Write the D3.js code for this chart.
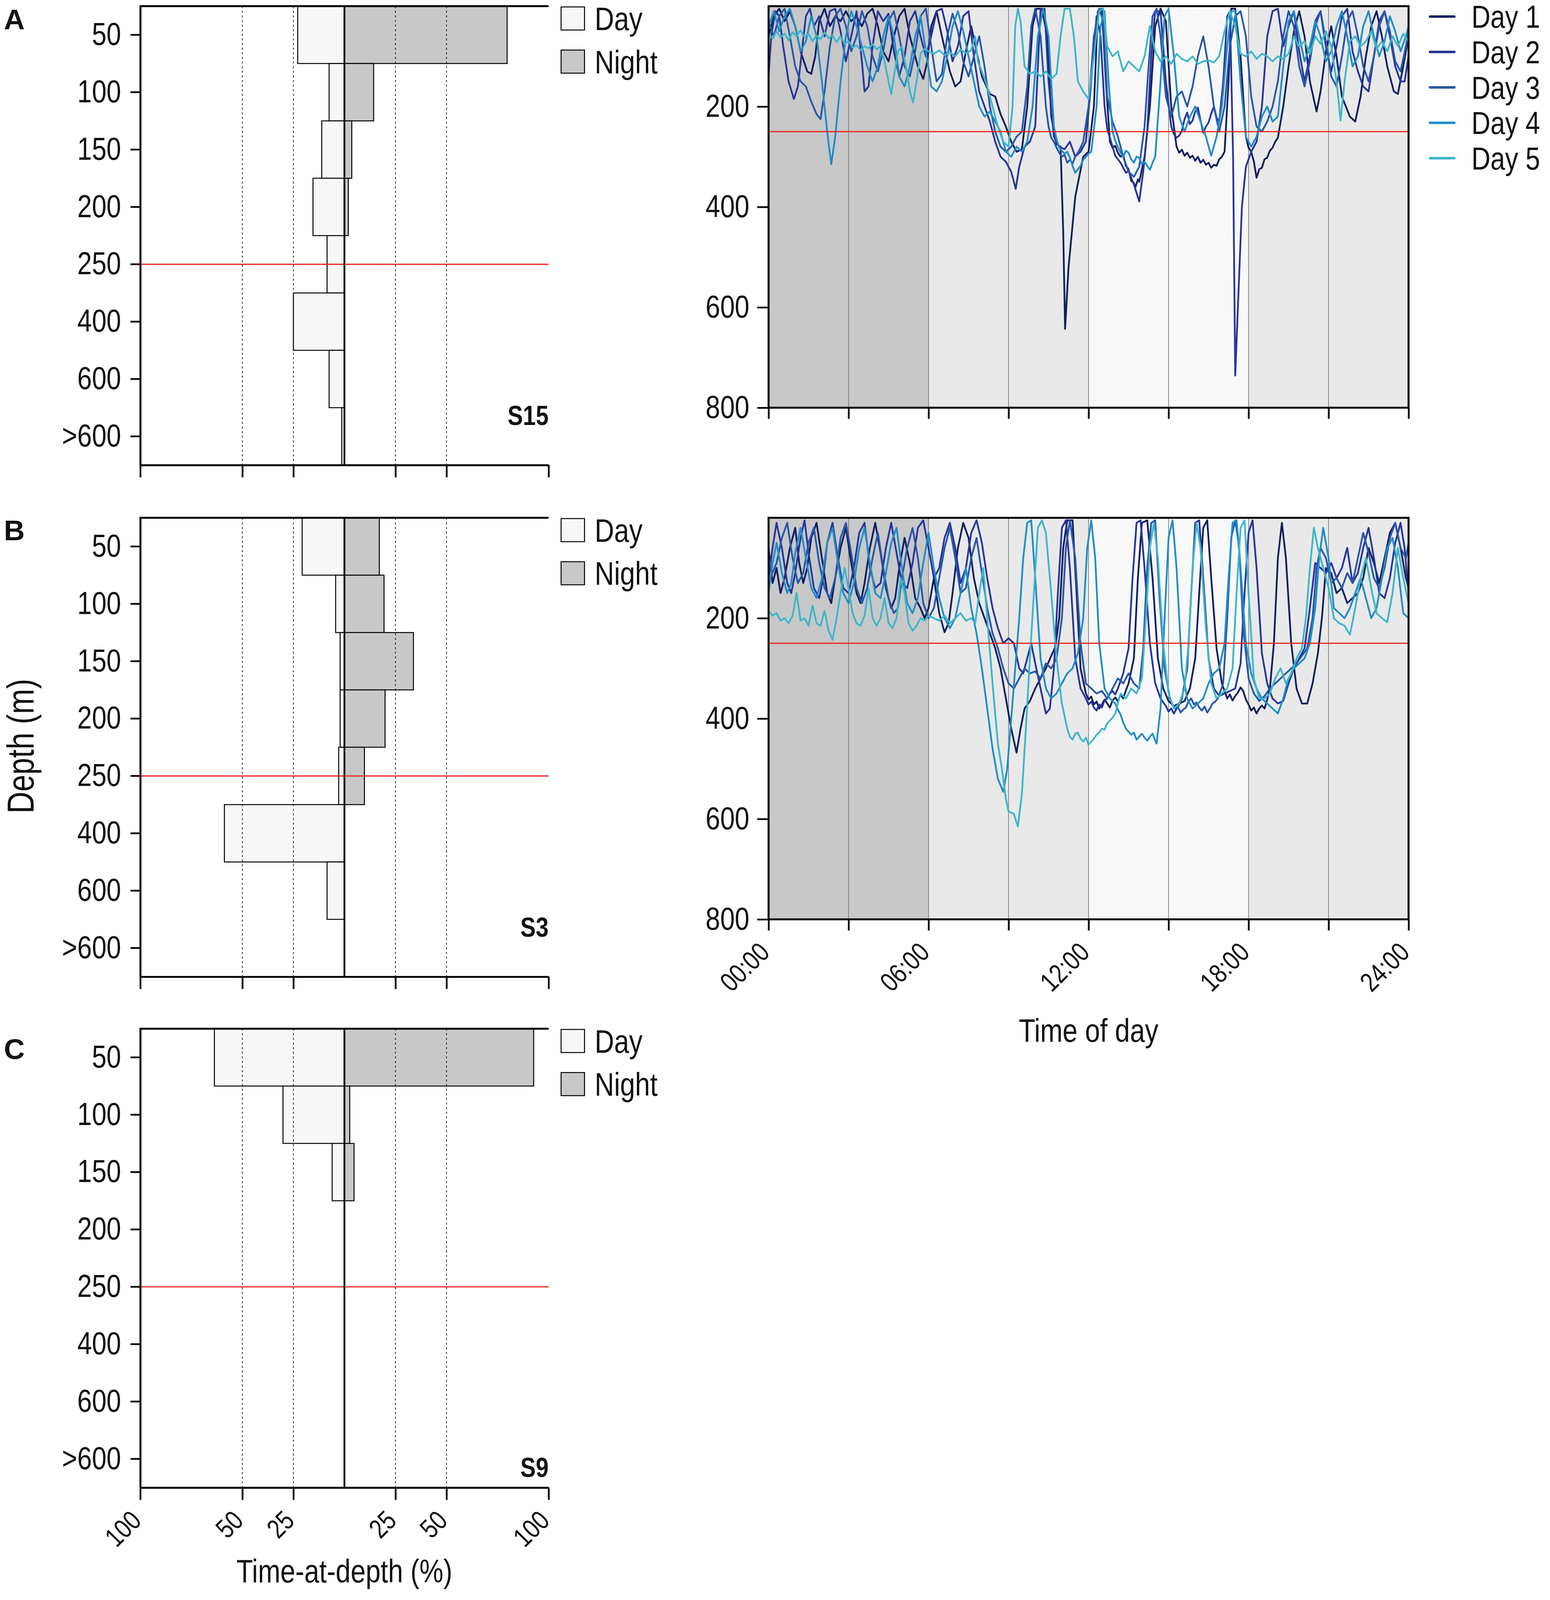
<!DOCTYPE html>
<html>
<head>
<meta charset="utf-8">
<script src="https://cdn.jsdelivr.net/npm/d3@7"></script>
<style>
  html, body { margin: 0; padding: 0; background: #fff; overflow: hidden; }
  svg { display: block; width: 100vw; height: 100vh; }
  svg text { font-family: "Liberation Sans", Arial, sans-serif; fill: #111; }
</style>
</head>
<body>
<svg id="fig" viewBox="0 0 3967 4156" preserveAspectRatio="none"></svg>
<script>
// ---- time-at-depth histograms (% of time) ----
const depthBins = ["50", "100", "150", "200", "250", "400", "600", ">600"];
const pctTicks = [-100, -50, -25, 25, 50, 100];
const pctGrid = [-50, -25, 25, 50];

const dayS15 = [22.9, 7.5, 11.1, 15.4, 8.5, 25.0, 7.5, 1.3];
const nightS15 = [79.7, 14.3, 3.6, 1.9, 0, 0, 0, 0];
const dayS3 = [20.7, 4.3, 2.1, 2.1, 2.8, 58.8, 8.5, 0];
const nightS3 = [17.1, 19.4, 33.8, 19.9, 9.8, 0, 0, 0];
const dayS9 = [63.7, 30.1, 6.0, 0, 0, 0, 0, 0];
const nightS9 = [92.7, 2.6, 4.7, 0, 0, 0, 0, 0];

// ---- dive profiles [hour, depth m] ----
const dayNames = ["Day 1", "Day 2", "Day 3", "Day 4", "Day 5"];
const dayColors = ["#101f5e", "#27349a", "#2656a9", "#1f8dc6", "#3cb6c9"];
const depthTicks = [200, 400, 600, 800];
const hourTicks = [0, 3, 6, 9, 12, 15, 18, 21, 24];
const hourLabels = { 0: "00:00", 6: "06:00", 12: "12:00", 18: "18:00", 24: "24:00" };
const lightPeriods = [[0, 6, "#c8c8c8"], [6, 12, "#e9e9e9"], [12, 18, "#f8f8f8"], [18, 24, "#e9e9e9"]];

const diveA1 = [[0,60],[0.2,20],[0.4,5],[0.6,30],[0.8,10],[1.0,40],[1.2,90],[1.45,130],[1.6,135],[1.75,100],[1.9,30],[2.1,5],[2.3,40],[2.5,20],[2.7,30],[2.9,10],[3.1,30],[3.3,20],[3.5,40],[3.7,15],[3.9,5],[4.1,40],[4.3,90],[4.5,110],[4.7,60],[4.9,20],[5.1,5],[5.3,60],[5.6,120],[5.8,145],[5.95,110],[6.1,40],[6.3,10],[6.5,60],[6.8,130],[7.0,160],[7.2,150],[7.4,90],[7.6,40],[7.8,90],[8.0,140],[8.3,175],[8.5,180],[8.7,215],[8.9,240],[9.1,270],[9.3,290],[9.5,285],[9.7,200],[9.9,40],[10.05,5],[10.25,5],[10.45,60],[10.6,220],[10.8,275],[10.95,280],[11.05,450],[11.12,643],[11.25,520],[11.5,380],[11.8,300],[12.0,290],[12.2,200],[12.35,10],[12.5,5],[12.65,150],[12.8,270],[12.9,282],[13.0,278],[13.1,292],[13.2,300],[13.3,296],[13.4,318],[13.5,325],[13.6,348],[13.7,352],[13.75,362],[13.85,345],[13.9,350],[14.0,325],[14.1,300],[14.3,200],[14.5,40],[14.7,5],[14.9,30],[15.1,200],[15.3,280],[15.4,292],[15.5,286],[15.6,298],[15.7,292],[15.8,302],[15.9,298],[16.0,308],[16.1,300],[16.2,312],[16.3,306],[16.4,316],[16.5,312],[16.6,322],[16.7,316],[16.8,318],[16.9,305],[17.0,300],[17.1,290],[17.25,150],[17.35,5],[17.5,5],[17.7,100],[17.9,260],[18.0,282],[18.1,290],[18.2,310],[18.3,342],[18.4,325],[18.5,322],[18.6,305],[18.7,302],[18.8,288],[18.9,282],[19.0,270],[19.1,262],[19.3,200],[19.5,120],[19.7,50],[19.9,10],[20.1,60],[20.3,150],[20.55,210],[20.7,170],[20.9,90],[21.1,40],[21.3,100],[21.5,180],[21.8,220],[22.0,230],[22.2,180],[22.4,100],[22.6,40],[22.8,10],[23.0,60],[23.2,120],[23.45,170],[23.6,175],[23.8,120],[24,60]];
const diveA2 = [[0,140],[0.1,60],[0.25,10],[0.4,20],[0.55,80],[0.75,150],[0.95,185],[1.1,160],[1.25,90],[1.4,20],[1.55,5],[1.7,40],[1.9,20],[2.1,60],[2.3,10],[2.5,5],[2.7,50],[2.9,110],[3.1,60],[3.3,10],[3.5,110],[3.6,170],[3.75,160],[3.9,80],[4.1,10],[4.3,30],[4.5,15],[4.7,90],[4.9,140],[5.1,100],[5.3,30],[5.5,10],[5.7,60],[5.9,100],[6.1,60],[6.3,10],[6.5,5],[6.7,50],[6.9,110],[7.1,80],[7.3,20],[7.5,10],[7.7,100],[7.9,170],[8.1,200],[8.3,230],[8.5,270],[8.7,300],[8.9,310],[9.1,330],[9.27,364],[9.4,320],[9.6,280],[9.8,270],[10.0,240],[10.1,120],[10.2,5],[10.35,5],[10.5,150],[10.7,260],[10.9,280],[11.1,285],[11.3,270],[11.5,300],[11.7,290],[11.9,270],[12.1,150],[12.3,20],[12.45,60],[12.6,200],[12.7,245],[12.8,262],[12.9,280],[13.0,298],[13.1,305],[13.2,312],[13.3,322],[13.4,332],[13.5,328],[13.6,342],[13.7,355],[13.8,372],[13.9,389],[14.05,330],[14.2,250],[14.35,100],[14.5,10],[14.7,10],[14.9,150],[15.1,240],[15.2,255],[15.3,262],[15.4,258],[15.5,248],[15.6,225],[15.7,212],[15.8,235],[15.9,228],[16.0,210],[16.1,202],[16.2,228],[16.3,252],[16.4,240],[16.5,232],[16.6,214],[16.7,200],[16.8,222],[16.9,230],[17.05,150],[17.2,20],[17.3,10],[17.42,300],[17.5,736],[17.6,600],[17.75,400],[17.9,320],[18.1,290],[18.3,270],[18.5,200],[18.7,60],[18.9,10],[19.1,5],[19.3,80],[19.5,40],[19.7,10],[19.9,90],[20.1,150],[20.3,100],[20.5,30],[20.7,10],[20.9,80],[21.1,130],[21.3,80],[21.5,20],[21.7,5],[21.9,90],[22.1,130],[22.3,160],[22.5,170],[22.7,100],[22.9,30],[23.1,10],[23.3,60],[23.5,120],[23.7,150],[23.85,150],[24,100]];
const diveA3 = [[0,30],[0.2,60],[0.4,20],[0.6,5],[0.8,60],[1.0,120],[1.2,150],[1.4,160],[1.6,190],[1.8,215],[1.95,225],[2.1,170],[2.3,80],[2.5,20],[2.7,5],[2.9,40],[3.1,90],[3.3,60],[3.5,10],[3.7,40],[3.9,100],[4.1,130],[4.3,90],[4.5,30],[4.7,10],[4.9,60],[5.1,120],[5.3,140],[5.5,90],[5.7,20],[5.9,5],[6.1,80],[6.3,150],[6.5,135],[6.7,60],[6.9,15],[7.1,50],[7.3,110],[7.5,140],[7.7,100],[7.9,60],[8.1,120],[8.3,200],[8.5,250],[8.7,280],[8.9,290],[9.1,280],[9.3,260],[9.5,250],[9.7,160],[9.85,40],[10.0,5],[10.2,60],[10.4,200],[10.5,240],[10.6,262],[10.7,270],[10.8,282],[10.9,292],[11.0,300],[11.1,296],[11.2,312],[11.3,306],[11.4,314],[11.5,300],[11.6,292],[11.7,282],[11.8,270],[12.0,200],[12.2,60],[12.4,5],[12.55,30],[12.7,180],[12.9,230],[13.1,260],[13.3,300],[13.5,330],[13.7,340],[13.9,320],[14.1,240],[14.25,120],[14.4,20],[14.55,5],[14.7,60],[14.9,180],[15.1,220],[15.3,180],[15.5,170],[15.7,200],[15.9,160],[16.1,100],[16.3,60],[16.5,120],[16.7,200],[16.9,250],[17.1,200],[17.3,80],[17.5,20],[17.7,10],[17.9,60],[18.1,180],[18.3,240],[18.5,250],[18.7,230],[18.9,200],[19.1,150],[19.3,60],[19.5,10],[19.7,40],[19.9,120],[20.1,160],[20.3,110],[20.5,40],[20.7,10],[20.9,70],[21.1,140],[21.3,160],[21.5,100],[21.7,30],[21.9,10],[22.1,60],[22.3,120],[22.5,150],[22.7,100],[22.9,40],[23.1,10],[23.3,50],[23.5,110],[23.7,130],[23.9,80],[24,50]];
const diveA4 = [[0,40],[0.2,10],[0.4,50],[0.6,20],[0.8,5],[1.0,40],[1.2,90],[1.4,70],[1.6,20],[1.8,60],[2.0,150],[2.2,250],[2.35,315],[2.5,260],[2.7,150],[2.9,60],[3.1,10],[3.3,40],[3.5,80],[3.7,120],[3.9,150],[4.1,120],[4.3,60],[4.5,20],[4.7,60],[4.9,140],[5.1,160],[5.3,120],[5.5,60],[5.7,20],[5.9,90],[6.1,160],[6.3,170],[6.5,150],[6.7,100],[6.9,40],[7.1,10],[7.3,50],[7.5,100],[7.7,150],[7.9,200],[8.1,220],[8.3,210],[8.5,230],[8.7,250],[8.9,290],[9.1,300],[9.3,280],[9.5,290],[9.7,270],[9.9,200],[10.1,60],[10.3,5],[10.5,60],[10.7,240],[10.8,265],[10.9,282],[11.0,288],[11.1,294],[11.2,290],[11.3,302],[11.4,318],[11.5,332],[11.6,325],[11.7,318],[11.8,306],[11.9,300],[12.0,294],[12.1,290],[12.3,200],[12.45,40],[12.6,10],[12.75,150],[12.9,250],[13.0,268],[13.1,280],[13.2,292],[13.3,300],[13.4,288],[13.5,292],[13.6,305],[13.7,312],[13.8,300],[13.9,302],[14.0,315],[14.1,310],[14.2,318],[14.3,326],[14.4,312],[14.5,300],[14.7,150],[14.85,20],[15.0,5],[15.2,100],[15.4,220],[15.6,250],[15.8,220],[16.0,200],[16.2,230],[16.4,260],[16.6,298],[16.8,260],[17.0,200],[17.2,80],[17.35,10],[17.5,10],[17.7,150],[17.9,260],[18.1,280],[18.3,260],[18.5,220],[18.7,200],[18.9,230],[19.1,220],[19.3,120],[19.5,30],[19.7,10],[19.9,60],[20.1,110],[20.3,80],[20.5,30],[20.7,60],[20.9,110],[21.1,90],[21.3,40],[21.5,10],[21.7,60],[21.9,120],[22.1,100],[22.3,40],[22.5,10],[22.7,60],[22.9,100],[23.1,70],[23.3,20],[23.5,50],[23.7,90],[23.9,60],[24,40]];
const diveA5 = [[0,55],[0.15,65],[0.3,50],[0.45,62],[0.6,55],[0.75,68],[0.9,52],[1.05,60],[1.2,48],[1.35,62],[1.5,55],[1.65,70],[1.8,58],[1.95,66],[2.1,52],[2.25,64],[2.4,58],[2.55,72],[2.7,60],[2.85,75],[3.0,70],[3.15,82],[3.3,78],[3.45,88],[3.6,80],[3.75,84],[3.9,76],[4.05,86],[4.2,80],[4.35,110],[4.5,150],[4.6,175],[4.7,140],[4.85,90],[5.0,80],[5.15,120],[5.3,170],[5.42,192],[5.55,150],[5.7,95],[5.85,85],[6.0,90],[6.2,95],[6.4,88],[6.6,98],[6.8,92],[7.0,100],[7.2,86],[7.4,94],[7.6,88],[7.75,60],[7.85,110],[8.0,130],[8.2,160],[8.4,200],[8.6,240],[8.8,270],[9.0,280],[9.15,200],[9.25,40],[9.35,5],[9.45,30],[9.6,120],[9.8,135],[10.0,130],[10.2,140],[10.4,130],[10.6,145],[10.8,135],[10.95,60],[11.1,5],[11.3,5],[11.45,60],[11.6,150],[11.8,170],[12.0,185],[12.2,100],[12.4,10],[12.55,5],[12.7,80],[12.9,100],[13.1,90],[13.3,130],[13.5,110],[13.7,120],[13.9,130],[14.1,100],[14.3,40],[14.5,90],[14.7,110],[14.9,100],[15.1,115],[15.3,95],[15.5,105],[15.7,110],[15.9,100],[16.1,115],[16.3,110],[16.5,108],[16.7,112],[16.9,100],[17.1,50],[17.3,10],[17.5,40],[17.7,95],[17.9,100],[18.1,90],[18.3,105],[18.5,95],[18.7,100],[18.9,110],[19.1,100],[19.3,105],[19.5,95],[19.7,60],[19.9,80],[20.1,70],[20.3,95],[20.5,60],[20.7,75],[20.9,50],[21.1,80],[21.3,150],[21.45,228],[21.6,150],[21.8,70],[22.0,60],[22.2,80],[22.4,70],[22.6,50],[22.8,85],[23.0,70],[23.2,90],[23.4,60],[23.6,80],[23.8,55],[24,70]];

const diveB1 = [[0,60],[0.15,130],[0.3,100],[0.45,150],[0.6,120],[0.8,60],[1.0,20],[1.15,90],[1.3,130],[1.45,100],[1.6,40],[1.8,10],[2.0,80],[2.2,150],[2.35,170],[2.5,120],[2.7,60],[2.9,20],[3.1,90],[3.3,150],[3.45,170],[3.6,130],[3.8,60],[4.0,10],[4.2,70],[4.4,140],[4.6,180],[4.75,160],[4.9,100],[5.1,40],[5.3,90],[5.5,160],[5.7,180],[5.85,200],[6.0,180],[6.2,120],[6.4,190],[6.6,228],[6.75,210],[6.9,150],[7.1,60],[7.3,10],[7.5,40],[7.7,120],[7.9,170],[8.1,200],[8.3,230],[8.5,260],[8.7,300],[8.9,360],[9.1,420],[9.3,468],[9.45,420],[9.6,380],[9.8,365],[10.0,340],[10.2,320],[10.4,300],[10.6,275],[10.75,258],[10.9,200],[11.05,60],[11.2,5],[11.4,5],[11.55,150],[11.7,300],[11.9,350],[12.0,362],[12.1,356],[12.2,372],[12.3,366],[12.4,380],[12.5,372],[12.6,362],[12.7,370],[12.8,378],[12.9,364],[13.0,358],[13.1,366],[13.2,352],[13.3,360],[13.4,344],[13.5,330],[13.7,280],[13.85,120],[14.0,10],[14.2,5],[14.4,120],[14.6,280],[14.8,340],[15.0,365],[15.2,375],[15.4,370],[15.6,365],[15.8,340],[16.0,280],[16.15,150],[16.3,20],[16.45,5],[16.6,120],[16.8,260],[17.0,330],[17.2,360],[17.3,352],[17.4,364],[17.5,355],[17.6,348],[17.7,338],[17.8,345],[17.9,362],[18.0,372],[18.1,384],[18.2,378],[18.3,390],[18.4,380],[18.5,374],[18.6,380],[18.7,362],[18.8,340],[18.95,250],[19.1,80],[19.25,10],[19.4,80],[19.6,250],[19.8,340],[20.0,370],[20.2,370],[20.4,330],[20.6,270],[20.75,200],[20.9,100],[21.1,110],[21.3,150],[21.5,140],[21.7,170],[21.9,160],[22.1,150],[22.3,120],[22.5,60],[22.7,90],[22.9,130],[23.1,80],[23.3,30],[23.5,10],[23.7,60],[23.9,120],[24,140]];
const diveB2 = [[0,120],[0.15,60],[0.3,10],[0.5,60],[0.7,130],[0.85,150],[1.0,110],[1.2,40],[1.35,5],[1.5,70],[1.7,140],[1.9,160],[2.05,120],[2.2,50],[2.4,10],[2.6,80],[2.8,140],[3.0,150],[3.2,100],[3.4,30],[3.6,10],[3.8,100],[4.0,140],[4.2,130],[4.4,60],[4.6,10],[4.8,70],[5.0,130],[5.2,140],[5.4,90],[5.6,20],[5.8,5],[6.0,60],[6.2,120],[6.4,100],[6.6,40],[6.8,10],[7.0,60],[7.2,130],[7.4,100],[7.6,30],[7.8,5],[8.0,50],[8.2,120],[8.4,180],[8.6,220],[8.8,250],[9.0,240],[9.2,250],[9.4,300],[9.55,310],[9.7,280],[9.85,250],[10.0,290],[10.2,340],[10.4,390],[10.55,380],[10.7,300],[10.85,150],[11.0,20],[11.15,5],[11.3,100],[11.5,280],[11.7,340],[11.9,360],[12.0,372],[12.1,366],[12.2,378],[12.3,384],[12.4,372],[12.5,378],[12.6,364],[12.7,360],[12.8,350],[12.9,345],[13.0,352],[13.1,340],[13.3,310],[13.5,260],[13.65,120],[13.8,10],[13.95,5],[14.1,100],[14.3,250],[14.5,330],[14.7,360],[14.9,375],[15.0,386],[15.1,380],[15.2,390],[15.3,380],[15.4,372],[15.5,360],[15.7,300],[15.85,150],[16.0,10],[16.15,5],[16.3,120],[16.5,280],[16.7,340],[16.9,355],[17.1,350],[17.3,345],[17.5,340],[17.7,290],[17.85,150],[18.0,30],[18.15,5],[18.3,100],[18.5,270],[18.7,330],[18.9,360],[19.1,370],[19.3,365],[19.5,330],[19.7,300],[19.9,280],[20.1,260],[20.3,180],[20.5,90],[20.7,100],[20.9,110],[21.1,90],[21.3,120],[21.5,100],[21.7,60],[21.9,130],[22.1,110],[22.3,60],[22.5,20],[22.7,80],[22.9,150],[23.1,160],[23.3,120],[23.5,50],[23.7,10],[23.85,60],[24,150]];
const diveB3 = [[0,80],[0.15,110],[0.3,90],[0.5,40],[0.7,10],[0.9,80],[1.1,130],[1.3,110],[1.5,50],[1.7,20],[1.9,90],[2.1,140],[2.3,160],[2.5,120],[2.7,40],[2.9,10],[3.1,70],[3.3,140],[3.5,170],[3.7,140],[3.9,80],[4.1,30],[4.3,100],[4.5,160],[4.7,190],[4.85,180],[5.0,120],[5.2,60],[5.4,20],[5.6,80],[5.8,170],[6.0,200],[6.2,180],[6.4,120],[6.6,60],[6.8,20],[7.0,80],[7.2,150],[7.4,140],[7.6,80],[7.8,40],[8.0,110],[8.2,180],[8.4,230],[8.6,260],[8.8,300],[9.0,330],[9.2,340],[9.4,320],[9.6,300],[9.8,310],[10.0,306],[10.2,320],[10.4,290],[10.6,300],[10.8,280],[11.0,200],[11.15,60],[11.3,5],[11.5,80],[11.7,250],[11.9,330],[12.1,340],[12.3,350],[12.5,345],[12.7,360],[12.9,340],[13.1,320],[13.3,330],[13.5,310],[13.7,330],[13.9,340],[14.05,260],[14.2,100],[14.35,10],[14.5,5],[14.65,150],[14.85,300],[15.05,360],[15.15,372],[15.25,380],[15.35,376],[15.45,388],[15.55,382],[15.65,378],[15.75,366],[15.85,360],[15.95,372],[16.05,368],[16.15,378],[16.25,384],[16.35,376],[16.45,388],[16.55,380],[16.65,370],[16.75,366],[16.85,360],[17.05,330],[17.2,200],[17.35,40],[17.5,5],[17.65,60],[17.8,220],[18.0,320],[18.2,350],[18.4,365],[18.6,355],[18.8,340],[19.0,330],[19.2,320],[19.4,310],[19.6,300],[19.8,290],[20.0,275],[20.2,260],[20.4,200],[20.55,100],[20.7,60],[20.9,80],[21.1,130],[21.3,120],[21.5,140],[21.7,110],[21.9,130],[22.1,80],[22.3,30],[22.5,70],[22.7,120],[22.9,140],[23.1,100],[23.3,40],[23.5,10],[23.7,60],[23.9,80],[24,50]];
const diveB4 = [[0,150],[0.15,90],[0.3,50],[0.5,110],[0.7,150],[0.85,130],[1.0,70],[1.2,20],[1.4,80],[1.6,140],[1.8,160],[2.0,120],[2.2,50],[2.4,20],[2.6,90],[2.8,150],[3.0,170],[3.2,130],[3.4,60],[3.6,20],[3.8,90],[4.0,150],[4.2,160],[4.4,110],[4.6,50],[4.8,20],[5.0,100],[5.2,170],[5.4,190],[5.6,160],[5.8,90],[6.0,30],[6.2,100],[6.4,160],[6.6,200],[6.8,220],[7.0,200],[7.2,150],[7.4,100],[7.6,180],[7.8,230],[8.0,300],[8.2,380],[8.4,460],[8.6,520],[8.8,546],[8.95,500],[9.1,400],[9.25,300],[9.4,200],[9.55,80],[9.7,10],[9.85,5],[10.0,120],[10.2,280],[10.4,340],[10.6,360],[10.8,350],[11.0,330],[11.2,310],[11.4,300],[11.6,270],[11.8,200],[11.95,60],[12.1,5],[12.25,80],[12.4,250],[12.6,340],[12.8,360],[13.0,370],[13.1,382],[13.2,392],[13.3,408],[13.4,420],[13.5,426],[13.6,432],[13.7,428],[13.8,442],[13.9,436],[14.0,430],[14.1,438],[14.2,444],[14.3,436],[14.4,430],[14.5,444],[14.55,450],[14.7,380],[14.85,200],[15.0,40],[15.15,5],[15.3,100],[15.5,300],[15.7,360],[15.9,380],[16.1,370],[16.3,360],[16.5,330],[16.7,310],[16.9,300],[17.1,250],[17.25,120],[17.4,10],[17.55,5],[17.7,100],[17.9,250],[18.1,310],[18.3,340],[18.5,360],[18.7,370],[18.9,380],[19.1,390],[19.3,360],[19.5,320],[19.7,300],[19.9,290],[20.1,280],[20.3,250],[20.5,180],[20.65,80],[20.8,20],[21.0,80],[21.2,180],[21.4,190],[21.6,200],[21.8,180],[22.0,150],[22.2,120],[22.4,160],[22.6,200],[22.8,180],[23.0,120],[23.2,60],[23.4,40],[23.6,100],[23.8,190],[24,200]];
const diveB5 = [[0,185],[0.15,195],[0.3,190],[0.45,205],[0.6,200],[0.75,210],[0.9,195],[1.05,150],[1.2,205],[1.35,200],[1.5,215],[1.65,175],[1.8,210],[1.95,215],[2.1,185],[2.25,225],[2.4,243],[2.55,200],[2.7,150],[2.85,100],[3.0,140],[3.15,190],[3.3,210],[3.45,215],[3.6,195],[3.75,140],[3.9,200],[4.05,215],[4.2,200],[4.35,160],[4.5,210],[4.65,220],[4.8,200],[4.95,120],[5.1,150],[5.25,210],[5.4,225],[5.55,215],[5.7,200],[5.85,205],[6.0,195],[6.2,200],[6.4,205],[6.6,195],[6.8,210],[7.0,200],[7.2,190],[7.4,205],[7.6,200],[7.75,210],[7.9,150],[8.05,100],[8.2,200],[8.4,330],[8.6,450],[8.75,500],[8.9,560],[9.0,585],[9.2,590],[9.35,615],[9.5,550],[9.65,420],[9.8,280],[9.95,150],[10.1,20],[10.25,5],[10.4,30],[10.6,150],[10.8,280],[11.0,370],[11.2,420],[11.3,436],[11.4,442],[11.5,430],[11.6,428],[11.7,440],[11.8,446],[11.9,438],[12.0,452],[12.1,446],[12.2,440],[12.3,432],[12.4,428],[12.5,420],[12.6,422],[12.7,410],[12.8,404],[12.9,398],[13.0,390],[13.2,350],[13.4,360],[13.6,340],[13.8,350],[14.0,320],[14.15,200],[14.3,60],[14.45,10],[14.6,80],[14.8,250],[15.0,350],[15.2,380],[15.4,370],[15.6,340],[15.75,250],[15.9,100],[16.05,10],[16.2,60],[16.4,220],[16.6,330],[16.8,360],[17.0,350],[17.2,340],[17.4,300],[17.55,150],[17.7,20],[17.85,5],[18.0,150],[18.2,320],[18.4,360],[18.6,360],[18.8,350],[19.0,320],[19.2,300],[19.4,330],[19.6,310],[19.8,280],[20.0,260],[20.15,200],[20.3,100],[20.45,20],[20.6,60],[20.8,100],[21.0,140],[21.2,200],[21.4,210],[21.6,215],[21.8,233],[22.0,180],[22.2,120],[22.4,80],[22.6,140],[22.8,190],[23.0,200],[23.2,208],[23.4,150],[23.6,60],[23.8,120],[24,170]];

const svg = d3.select("#fig");

// the figure uses a condensed sans; squeeze Liberation Sans horizontally
function squeeze(sel, k = 0.82) {
  sel.each(function () {
    const t = d3.select(this);
    const x = +t.attr("x") || 0, y = +t.attr("y") || 0;
    const tr = t.attr("transform") || "";
    t.attr("x", 0).attr("y", 0).attr("transform", `${tr} translate(${x},${y}) scale(${k},1)`);
  });
  return sel;
}

// ---------- histograms ----------
const HIST_H = 1192;
const xPct = d3.scaleLinear().domain([-100, 100]).range([359, 1404]);

const histPanels = [
  { letter: "A", top: 16, day: dayS15, night: nightS15, station: "S15", stationY: 1104, letterY: 76, labels: false },
  { letter: "B", top: 1345, day: dayS3, night: nightS3, station: "S3", stationY: 2433, letterY: 1403, labels: false },
  { letter: "C", top: 2672, day: dayS9, night: nightS9, station: "S9", stationY: 3836, letterY: 2751, labels: true }
];

histPanels.forEach(drawHist);

function drawHist(p) {
  const g = svg.append("g");
  const y = d3.scaleBand().domain(depthBins).range([p.top, p.top + HIST_H]);
  const bottom = p.top + HIST_H;
  const rows = depthBins.map((b, i) => ({ bin: b, day: p.day[i], night: p.night[i] }));

  // day bars to the left, night bars to the right
  g.selectAll(".dayBar").data(rows.filter(d => d.day > 0)).join("rect")
    .attr("x", d => xPct(-d.day))
    .attr("width", d => xPct(0) - xPct(-d.day))
    .attr("y", d => y(d.bin))
    .attr("height", y.bandwidth())
    .attr("fill", "#f7f7f7").attr("stroke", "#000").attr("stroke-width", 2.5);

  g.selectAll(".nightBar").data(rows.filter(d => d.night > 0)).join("rect")
    .attr("x", xPct(0))
    .attr("width", d => xPct(d.night) - xPct(0))
    .attr("y", d => y(d.bin))
    .attr("height", y.bandwidth())
    .attr("fill", "#c8c8c8").attr("stroke", "#000").attr("stroke-width", 2.5);

  // dotted guides
  g.selectAll(".guide").data(pctGrid).join("line")
    .attr("x1", d => xPct(d)).attr("x2", d => xPct(d))
    .attr("y1", p.top).attr("y2", bottom)
    .attr("stroke", "#000").attr("stroke-width", 1.8).attr("stroke-dasharray", "5,7");

  // 250 m reference
  g.append("line")
    .attr("x1", xPct(-100)).attr("x2", xPct(100))
    .attr("y1", y("250") + y.bandwidth() / 2).attr("y2", y("250") + y.bandwidth() / 2)
    .attr("stroke", "#e8231f").attr("stroke-width", 3);

  // centre line + top line
  g.append("line").attr("x1", xPct(0)).attr("x2", xPct(0)).attr("y1", p.top).attr("y2", bottom)
    .attr("stroke", "#000").attr("stroke-width", 4.5);
  g.append("line").attr("x1", xPct(-100) - 2).attr("x2", xPct(100)).attr("y1", p.top).attr("y2", p.top)
    .attr("stroke", "#000").attr("stroke-width", 5);

  // axes
  const yAxis = g.append("g").attr("transform", `translate(${xPct(-100)},0)`)
    .call(d3.axisLeft(y).tickSize(25).tickPadding(24).tickSizeOuter(0));
  yAxis.select(".domain").attr("stroke-width", 5);
  yAxis.selectAll(".tick line").attr("stroke-width", 4.5);
  squeeze(yAxis.selectAll("text").attr("font-size", 82).attr("fill", "#111"));

  const xAxis = g.append("g").attr("transform", `translate(0,${bottom})`)
    .call(d3.axisBottom(xPct).tickValues(pctTicks).tickSize(32).tickSizeOuter(0)
      .tickFormat(d => p.labels ? Math.abs(d) : ""));
  xAxis.select(".domain").attr("stroke-width", 5);
  xAxis.selectAll(".tick line").attr("stroke-width", 4.5);
  squeeze(xAxis.selectAll("text")
    .attr("font-size", 70).attr("fill", "#111")
    .attr("x", 0).attr("y", 0).attr("dy", 0)
    .attr("text-anchor", "end")
    .attr("transform", "translate(6,90) rotate(-45)"));

  // legend
  const leg = g.append("g");
  [["Day", "#f7f7f7"], ["Night", "#c8c8c8"]].forEach((it, i) => {
    const ly = p.top + 2 + i * 112;
    leg.append("rect").attr("x", 1436).attr("y", ly).attr("width", 60).attr("height", 60)
      .attr("fill", it[1]).attr("stroke", "#000").attr("stroke-width", 2.5);
    squeeze(leg.append("text").attr("x", 1522).attr("y", ly + 30).attr("dy", "0.36em")
      .attr("font-size", 84).text(it[0]));
  });

  // station tag and panel letter
  squeeze(g.append("text").attr("x", xPct(100)).attr("y", p.stationY).attr("text-anchor", "end")
    .attr("font-size", 72).attr("font-weight", "bold").text(p.station));
  g.append("text").attr("x", 10).attr("y", p.letterY)
    .attr("font-size", 74).attr("font-weight", "bold").text(p.letter);
}

// shared titles
squeeze(svg.append("text")
  .attr("transform", "translate(86,1938) rotate(-90)")
  .attr("text-anchor", "middle").attr("font-size", 96).text("Depth (m)"));
squeeze(svg.append("text").attr("x", xPct(0)).attr("y", 4110).attr("text-anchor", "middle")
  .attr("font-size", 84).text("Time-at-depth (%)"));

// ---------- dive profiles ----------
const LINE_H = 1043;
const xHour = d3.scaleLinear().domain([0, 24]).range([1967, 3605]);

const linePanels = [
  { id: "A", top: 16, series: [diveA1, diveA2, diveA3, diveA4, diveA5], labels: false },
  { id: "B", top: 1345, series: [diveB1, diveB2, diveB3, diveB4, diveB5], labels: true }
];

linePanels.forEach(drawDives);

function drawDives(p) {
  const g = svg.append("g");
  const y = d3.scaleLinear().domain([0, 800]).range([p.top, p.top + LINE_H]);
  const bottom = p.top + LINE_H;

  g.selectAll(".shade").data(lightPeriods).join("rect")
    .attr("x", d => xHour(d[0])).attr("width", d => xHour(d[1]) - xHour(d[0]))
    .attr("y", p.top).attr("height", LINE_H).attr("fill", d => d[2]);

  g.selectAll(".vline").data(hourTicks.slice(1, -1)).join("line")
    .attr("x1", d => xHour(d)).attr("x2", d => xHour(d))
    .attr("y1", p.top).attr("y2", bottom)
    .attr("stroke", "#707070").attr("stroke-width", 1.6);

  g.append("clipPath").attr("id", "clip" + p.id)
    .append("rect").attr("x", xHour(0)).attr("y", p.top).attr("width", xHour(24) - xHour(0)).attr("height", LINE_H);

  const line = d3.line().x(d => xHour(d[0])).y(d => y(d[1]));
  g.append("g").attr("clip-path", `url(#clip${p.id})`)
    .selectAll("path").data(p.series).join("path")
    .attr("d", line)
    .attr("fill", "none")
    .attr("stroke", (d, i) => dayColors[i])
    .attr("stroke-width", 4.5)
    .attr("stroke-linejoin", "round");

  g.append("line").attr("x1", xHour(0)).attr("x2", xHour(24)).attr("y1", y(250)).attr("y2", y(250))
    .attr("stroke", "#e8231f").attr("stroke-width", 3);

  g.append("rect").attr("x", xHour(0)).attr("y", p.top).attr("width", xHour(24) - xHour(0)).attr("height", LINE_H)
    .attr("fill", "none").attr("stroke", "#000").attr("stroke-width", 5);

  const yAxis = g.append("g").attr("transform", `translate(${xHour(0)},0)`)
    .call(d3.axisLeft(y).tickValues(depthTicks).tickSize(29).tickPadding(20).tickSizeOuter(0));
  yAxis.select(".domain").remove();
  yAxis.selectAll(".tick line").attr("stroke-width", 4.5);
  squeeze(yAxis.selectAll("text").attr("font-size", 82).attr("fill", "#111"));

  const xAxis = g.append("g").attr("transform", `translate(0,${bottom})`)
    .call(d3.axisBottom(xHour).tickValues(hourTicks).tickSize(29).tickSizeOuter(0)
      .tickFormat(d => p.labels ? (hourLabels[d] || "") : ""));
  xAxis.select(".domain").remove();
  xAxis.selectAll(".tick line").attr("stroke-width", 4.5);
  squeeze(xAxis.selectAll("text")
    .attr("font-size", 70).attr("fill", "#111")
    .attr("x", 0).attr("y", 0).attr("dy", 0)
    .attr("text-anchor", "end")
    .attr("transform", "translate(6,90) rotate(-45)"));

  if (p.labels) {
    squeeze(g.append("text").attr("x", (xHour(0) + xHour(24)) / 2).attr("y", 2706)
      .attr("text-anchor", "middle").attr("font-size", 84).text("Time of day"));
  }
}

// line legend
const lineLeg = svg.append("g");
dayNames.forEach((name, i) => {
  const ly = 43 + i * 92;
  lineLeg.append("line").attr("x1", 3660).attr("x2", 3722).attr("y1", ly).attr("y2", ly)
    .attr("stroke", dayColors[i]).attr("stroke-width", 6.5).attr("stroke-linecap", "round");
  squeeze(lineLeg.append("text").attr("x", 3766).attr("y", ly).attr("dy", "0.36em")
    .attr("font-size", 82).text(name));
});
</script>
</body>
</html>
